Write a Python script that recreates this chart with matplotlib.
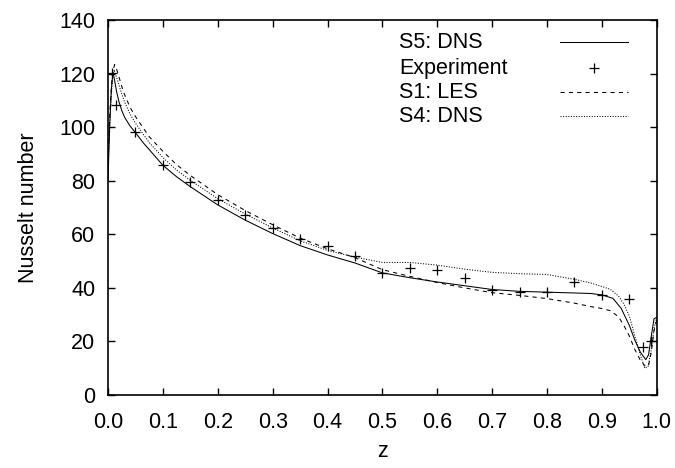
import matplotlib
matplotlib.use("Agg")
import matplotlib.pyplot as plt

plt.rcParams['font.family'] = ['Liberation Sans', 'DejaVu Sans']

# S5: DNS (solid)
s5_z = [0.0, 0.003, 0.006, 0.009, 0.012, 0.016, 0.02, 0.025, 0.03, 0.04, 0.05, 0.065, 0.08, 0.1,
        0.125, 0.15, 0.2, 0.25, 0.3, 0.35, 0.4, 0.45, 0.5, 0.55, 0.6, 0.65, 0.7, 0.75, 0.8,
        0.85, 0.88, 0.9, 0.92, 0.935, 0.95, 0.96, 0.97, 0.98, 0.985, 0.99, 0.995, 1.0]
s5_nu = [80, 100, 114, 120.5, 117.5, 113, 109.5, 106.3, 103.8, 100.5, 98, 94, 90.5, 85.8,
         81.5, 77.8, 71, 65.3, 60.3, 55.8, 52.3, 49.3, 45.6, 43.8, 42.2, 40.8, 39.4, 38.7, 38.4,
         38.1, 37.9, 37.4, 36.1, 32.4, 26, 20.5, 16, 13.2, 15, 22, 28.5, 29]

# Experiment (plus markers)
exp_z = [0.008, 0.015, 0.05, 0.1, 0.15, 0.2, 0.25, 0.3, 0.35, 0.4, 0.45, 0.5, 0.55, 0.6,
         0.65, 0.7, 0.75, 0.8, 0.85, 0.9, 0.95, 0.974, 0.989]
exp_nu = [120.2, 108.2, 98.3, 85.8, 79.6, 72.8, 67.2, 62.4, 58.2, 55.8, 51.8, 45.5, 47.3, 46.5,
          43.6, 39.1, 38.5, 38.3, 42.1, 37.2, 35.8, 17.8, 20.3]

# S1: LES (dashed)
s1_z = [0.0, 0.004, 0.008, 0.012, 0.016, 0.02, 0.025, 0.03, 0.04, 0.05, 0.075, 0.1, 0.125, 0.15,
        0.2, 0.25, 0.3, 0.35, 0.4, 0.45, 0.5, 0.55, 0.6, 0.65, 0.7, 0.75, 0.8, 0.85, 0.88,
        0.9, 0.915, 0.93, 0.94, 0.95, 0.96, 0.97, 0.98, 0.985, 0.99, 0.995, 1.0]
s1_nu = [88, 108, 120, 123.4, 121.5, 118.8, 115.3, 112.3, 107.5, 104, 96.5, 91, 86, 82,
         74.8, 68.9, 63.6, 58.6, 54.6, 51.3, 46.8, 44.3, 42, 40, 38.2, 37.2, 36, 34.3, 33,
         32.3, 31.5, 29.3, 26, 22, 17, 13, 10.5, 11, 16, 24, 28]

# S4: DNS (dotted)
s4_z = [0.0, 0.004, 0.008, 0.011, 0.015, 0.02, 0.025, 0.03, 0.04, 0.05, 0.075, 0.1, 0.125, 0.15,
        0.2, 0.25, 0.3, 0.35, 0.4, 0.45, 0.5, 0.55, 0.6, 0.65, 0.7, 0.75, 0.8, 0.85, 0.88,
        0.9, 0.915, 0.93, 0.94, 0.95, 0.96, 0.97, 0.978, 0.984, 0.99, 0.995, 1.0]
s4_nu = [86, 105, 118, 121.5, 119, 115.8, 112.5, 109.5, 105, 101.5, 94.3, 88.7, 84, 80.2,
         73.3, 67.6, 62.4, 57.6, 54, 51.5, 49.5, 49.5, 48.5, 47, 45.8, 45.3, 45, 43.2, 41.8,
         40.5, 39.5, 37, 34, 29.5, 22, 15, 10, 10.5, 17, 25, 29]

labels = ["S5: DNS", "Experiment", "S1: LES", "S4: DNS"]
x_ticks = [0.0, 0.1, 0.2, 0.3, 0.4, 0.5, 0.6, 0.7, 0.8, 0.9, 1.0]
y_ticks = [0, 20, 40, 60, 80, 100, 120, 140]

FS = 15.5
fig = plt.figure(figsize=(6.75, 4.68), dpi=100)
ax = fig.add_axes([0.16, 0.156, 0.813, 0.801])

lw = 0.75
solid = dict(color='black', lw=lw, linestyle='-')
mark = dict(color='black', linestyle='none', marker='+', markersize=7, markeredgewidth=0.9)
dashed = dict(color='black', lw=lw, linestyle=(0, (4, 4)))
dotted = dict(color='black', lw=lw, linestyle=(0, (1, 1.5)))
styles = [solid, mark, dashed, dotted]

ax.plot(s5_z, s5_nu, **solid)
ax.plot(exp_z, exp_nu, **mark)
ax.plot(s1_z, s1_nu, **dashed)
ax.plot(s4_z, s4_nu, **dotted)

ax.set_xlim(0, 1)
ax.set_ylim(0, 140)
ax.set_xticks(x_ticks)
ax.set_xticklabels([f"{t:.1f}" for t in x_ticks])
ax.set_yticks(y_ticks)
ax.set_yticklabels([str(t) for t in y_ticks])
ax.tick_params(direction='in', top=True, right=True, length=5, width=1.0,
               labelsize=FS)
ax.tick_params(axis='x', pad=12)
ax.tick_params(axis='y', pad=9)
for s in ax.spines.values():
    s.set_linewidth(1.2)

ax.set_xlabel("z", fontsize=FS, labelpad=6)
ax.set_ylabel("Nusselt number", fontsize=FS, labelpad=15)

# gnuplot-style key: left-justified text, samples on the right
tx = 0.530
sx0, sx1 = 0.823, 0.947
row_y = [0.941, 0.872, 0.807, 0.743]
for lab, st, yy in zip(labels, styles, row_y):
    ax.text(tx, yy, lab, transform=ax.transAxes, fontsize=FS, va='center', ha='left')
    if st is mark:
        ax.plot([(sx0 + sx1) / 2], [yy], transform=ax.transAxes, **st)
    else:
        ax.plot([sx0, sx1], [yy, yy], transform=ax.transAxes, **st)

fig.savefig("out.png", dpi=100)
